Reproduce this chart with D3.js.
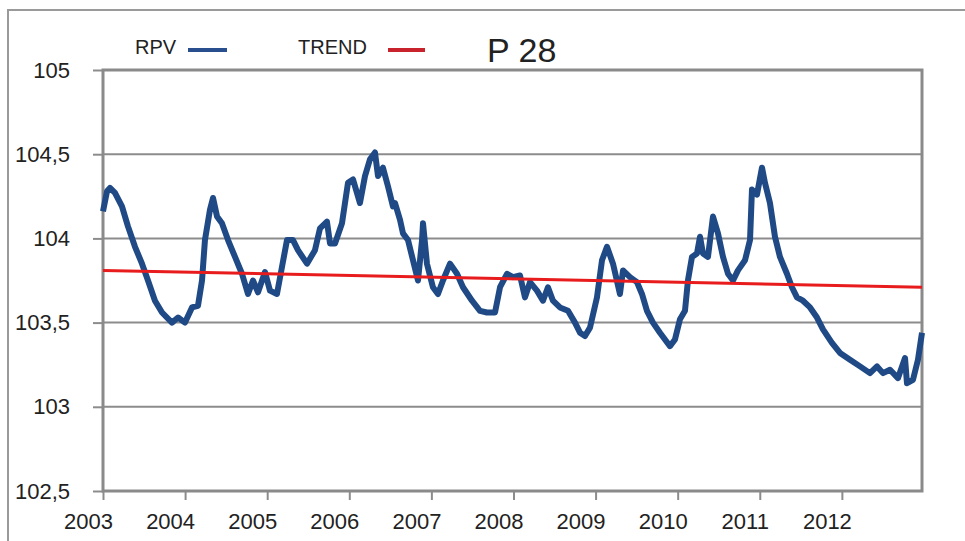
<!DOCTYPE html>
<html>
<head>
<meta charset="utf-8">
<script src="https://cdn.jsdelivr.net/npm/d3@7"></script>
<style>
  body { margin: 0; background: #fff; }
  text { font-family: "Liberation Sans", Arial, sans-serif; fill: #222; }
</style>
</head>
<body>
<div id="chart"></div>
<script>
// RPV series (x = fractional year, y = value)
const years = [
  2003.000, 2003.049, 2003.085, 2003.146, 2003.231, 2003.305, 2003.390, 2003.475, 2003.548, 2003.633,
  2003.719, 2003.840, 2003.914, 2003.999, 2004.084, 2004.157, 2004.206, 2004.242, 2004.303, 2004.340,
  2004.389, 2004.449, 2004.523, 2004.608, 2004.693, 2004.766, 2004.827, 2004.888, 2004.973, 2005.034,
  2005.119, 2005.180, 2005.241, 2005.314, 2005.375, 2005.485, 2005.582, 2005.643, 2005.728, 2005.765,
  2005.826, 2005.911, 2005.984, 2006.045, 2006.130, 2006.191, 2006.252, 2006.313, 2006.350, 2006.410,
  2006.471, 2006.532, 2006.557, 2006.618, 2006.654, 2006.715, 2006.776, 2006.837, 2006.886, 2006.898,
  2006.946, 2007.019, 2007.080, 2007.141, 2007.227, 2007.312, 2007.385, 2007.495, 2007.592, 2007.677,
  2007.775, 2007.836, 2007.921, 2007.994, 2008.079, 2008.140, 2008.201, 2008.286, 2008.359, 2008.420,
  2008.481, 2008.566, 2008.664, 2008.749, 2008.810, 2008.871, 2008.932, 2009.017, 2009.078, 2009.139,
  2009.212, 2009.297, 2009.334, 2009.419, 2009.504, 2009.565, 2009.626, 2009.699, 2009.784, 2009.906,
  2009.967, 2010.028, 2010.089, 2010.125, 2010.174, 2010.235, 2010.272, 2010.308, 2010.369, 2010.430,
  2010.491, 2010.552, 2010.613, 2010.674, 2010.734, 2010.820, 2010.881, 2010.905, 2010.966, 2011.027,
  2011.063, 2011.124, 2011.185, 2011.246, 2011.331, 2011.392, 2011.453, 2011.526, 2011.612, 2011.697,
  2011.770, 2011.879, 2011.977, 2012.099, 2012.221, 2012.342, 2012.428, 2012.501, 2012.586, 2012.683,
  2012.769, 2012.793, 2012.866, 2012.927, 2012.976
];
const rpv = [
  104.16, 104.28, 104.30, 104.27, 104.19, 104.07, 103.95, 103.85, 103.75, 103.63,
  103.56, 103.50, 103.53, 103.50, 103.59, 103.60, 103.75, 103.99, 104.17, 104.24,
  104.13, 104.09, 103.99, 103.89, 103.79, 103.67, 103.75, 103.68, 103.80, 103.69,
  103.67, 103.83, 103.99, 103.99, 103.93, 103.85, 103.93, 104.06, 104.10, 103.97,
  103.97, 104.09, 104.33, 104.35, 104.21, 104.37, 104.47, 104.51, 104.37, 104.42,
  104.31, 104.19, 104.21, 104.11, 104.03, 103.99, 103.87, 103.75, 103.99, 104.09,
  103.85, 103.71, 103.67, 103.75, 103.85, 103.79, 103.71, 103.63, 103.57, 103.56,
  103.56, 103.71, 103.79, 103.77, 103.78, 103.65, 103.74, 103.69, 103.63, 103.71,
  103.63, 103.59, 103.57, 103.50, 103.44, 103.42, 103.47, 103.65, 103.87, 103.95,
  103.85, 103.67, 103.81, 103.77, 103.74, 103.67, 103.57, 103.50, 103.44, 103.36,
  103.40, 103.52, 103.57, 103.75, 103.89, 103.91, 104.01, 103.91, 103.89, 104.13,
  104.03, 103.89, 103.79, 103.75, 103.81, 103.87, 103.99, 104.29, 104.26, 104.42,
  104.33, 104.21, 104.01, 103.89, 103.79, 103.71, 103.65, 103.63, 103.59, 103.53,
  103.46, 103.38, 103.32, 103.28, 103.24, 103.20, 103.24, 103.20, 103.22, 103.17,
  103.29, 103.14, 103.16, 103.28, 103.44
];
// linear trend, start and end
const trendYears = [2003.000, 2012.976];
const trend = [103.81, 103.71];

const tickYears = [2003, 2004, 2005, 2006, 2007, 2008, 2009, 2010, 2011, 2012];
const yTicks = [102.5, 103, 103.5, 104, 104.5, 105];

const width = 965, height = 541;
const margin = {top: 70, right: 43, bottom: 50, left: 103};

const svg = d3.select("#chart").append("svg")
    .attr("width", width)
    .attr("height", height);

// outer frame of the picture
svg.append("path")
    .attr("d", `M8,${height} L8,10 L${width},10`)
    .attr("fill", "none")
    .attr("stroke", "#9a9a9a")
    .attr("stroke-width", 2);

const x = d3.scaleLinear()
    .domain([2003, 2012.976])
    .range([margin.left, width - margin.right]);

const y = d3.scaleLinear()
    .domain([102.5, 105])
    .range([height - margin.bottom, margin.top]);

const fmt = d => d3.format("")(d).replace(".", ",");

// gridlines
svg.append("g")
  .selectAll("line")
  .data(yTicks)
  .join("line")
    .attr("x1", x.range()[0])
    .attr("x2", x.range()[1])
    .attr("y1", d => y(d))
    .attr("y2", d => y(d))
    .attr("stroke", "#8c8c8c")
    .attr("stroke-width", 2);

// y axis
const yAxis = svg.append("g")
    .attr("transform", `translate(${margin.left},0)`)
    .call(d3.axisLeft(y).tickValues(yTicks).tickFormat(fmt).tickSize(10).tickPadding(23));
yAxis.select(".domain").remove();
yAxis.selectAll("line").attr("stroke", "#8c8c8c").attr("stroke-width", 2);
yAxis.selectAll("text").style("font-size", "22px").attr("fill", "#222");

// x axis
const xAxis = svg.append("g")
    .attr("transform", `translate(0,${height - margin.bottom})`)
    .call(d3.axisBottom(x).tickValues(tickYears).tickFormat(d3.format("d")).tickSize(9).tickPadding(13));
xAxis.select(".domain").remove();
xAxis.selectAll("line").attr("stroke", "#8c8c8c").attr("stroke-width", 2);
xAxis.selectAll("text").style("font-size", "22px").attr("fill", "#222").attr("dx", -15);

// plot border
svg.append("rect")
    .attr("x", x.range()[0])
    .attr("y", y.range()[1])
    .attr("width", x.range()[1] - x.range()[0])
    .attr("height", y.range()[0] - y.range()[1])
    .attr("fill", "none")
    .attr("stroke", "#8a8a8a")
    .attr("stroke-width", 3);

const line = d3.line()
    .x(d => x(d[0]))
    .y(d => y(d[1]));

svg.append("path")
    .datum(years.map((d, i) => [d, rpv[i]]))
    .attr("fill", "none")
    .attr("stroke", "#1f4a86")
    .attr("stroke-width", 6)
    .attr("stroke-linejoin", "round")
    .attr("d", line);

svg.append("path")
    .datum(trendYears.map((d, i) => [d, trend[i]]))
    .attr("fill", "none")
    .attr("stroke", "#e81c1c")
    .attr("stroke-width", 3)
    .attr("d", line);

// legend
const legend = svg.append("g");
legend.append("text").attr("x", 135).attr("y", 54).style("font-size", "20px").text("RPV");
legend.append("line").attr("x1", 188).attr("x2", 227).attr("y1", 50).attr("y2", 50)
    .attr("stroke", "#2a4f8f").attr("stroke-width", 4);
legend.append("text").attr("x", 298).attr("y", 54).style("font-size", "20px").text("TREND");
legend.append("line").attr("x1", 388).attr("x2", 425).attr("y1", 50).attr("y2", 50)
    .attr("stroke", "#c8232c").attr("stroke-width", 4);
legend.append("text").attr("x", 487).attr("y", 62).style("font-size", "34px").text("P 28");
</script>
</body>
</html>
